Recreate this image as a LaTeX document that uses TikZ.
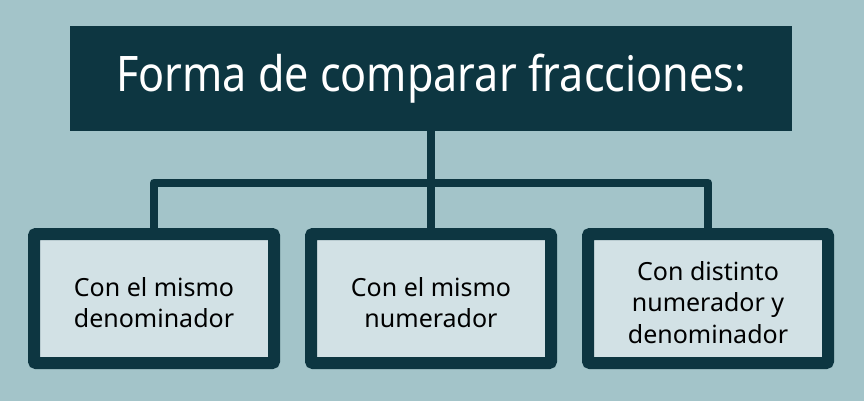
\documentclass[tikz,border=0pt]{standalone}
\usepackage{fontspec}
\setmainfont{Noto Sans}
\newfontfamily\titlefont[FakeStretch=0.88]{Noto Sans}
\definecolor{bgc}{HTML}{A3C4C9}
\definecolor{darkc}{HTML}{0D3641}
\definecolor{lightc}{HTML}{D2E1E5}
\newcommand{\mytopstrut}{\rule{0pt}{27pt}}
\tikzset{
  titlebox/.style={fill=darkc, text=white, minimum width=722pt, minimum height=105pt, inner sep=0pt,
    font=\titlefont\fontsize{49}{56}\selectfont},
  leafbox/.style={fill=lightc, draw=darkc, line width=12pt, rounded corners=2pt, minimum width=240pt, minimum height=129pt,
    inner sep=0pt, align=center, text=black, font=\fontsize{25}{31.5}\selectfont},
  conn/.style={draw=darkc, line width=8pt, line join=round, line cap=butt}
}
\begin{document}
\begin{tikzpicture}[x=1pt,y=-1pt]
\fill[bgc] (0,0) rectangle (864,401);
\useasboundingbox (0,0) rectangle (864,401);
\node[titlebox] (T) at (431,78.5) {Forma de comparar fracciones:};
\node[leafbox] (A) at (154,298.5) {\mytopstrut Con el mismo\\denominador};
\node[leafbox] (B) at (431,298.5) {\mytopstrut Con el mismo\\numerador};
\node[leafbox] (C) at (708,298.5) {\mytopstrut Con distinto\\numerador y\\denominador};
\coordinate (bar) at (431,182.5);
\draw[conn] (A.north) |- (bar) -| (C.north);
\draw[conn] (T.south) -- (B.north);
\end{tikzpicture}
\end{document}
